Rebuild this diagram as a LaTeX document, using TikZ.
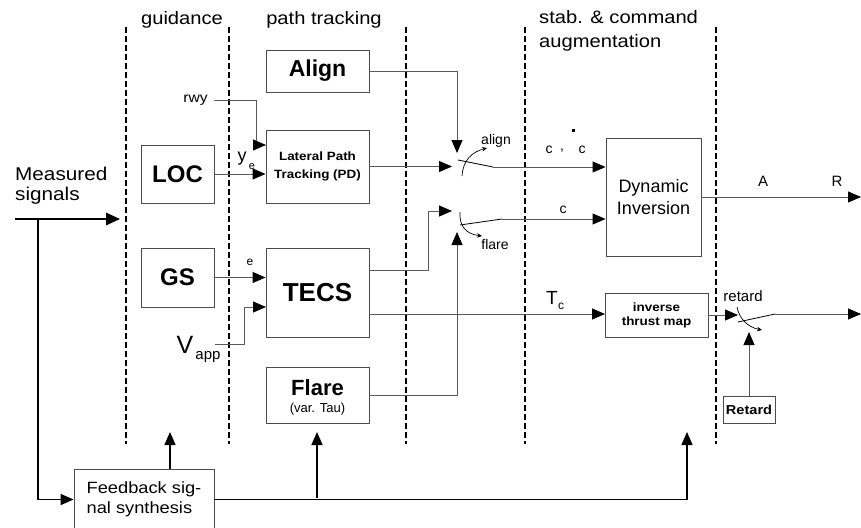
\documentclass[tikz,border=0pt]{standalone}
\usepackage{fontspec}
\setmainfont{Liberation Sans}
\newfontfamily\widesans[FakeStretch=1.12]{Liberation Sans}
\usetikzlibrary{arrows.meta}
\newcommand\fsz[1]{\fontsize{#1}{#1}\selectfont}

\tikzset{
  box/.style={draw=black!70, line width=0.9pt, inner sep=0pt, align=center},
  sig/.style={draw=black!65, line width=0.9pt},
  fbl/.style={draw=black, line width=1.5pt},
  tip/.style={-{Triangle[length=13pt,width=11pt,color=black]}},
  bigtip/.style={-{Triangle[length=14pt,width=12.5pt,color=black]}},
  blade/.style={draw=black, line width=0.8pt},
  swarr/.style={draw=black, line width=0.7pt, -{Stealth[length=5pt,width=4.5pt]}},
  sep/.style={draw=black, line width=1.3pt, dash pattern=on 6pt off 3pt},
  lbl/.style={inner sep=0pt},
}

\begin{document}
\begin{tikzpicture}[x=1pt,y=-1pt]
\clip (0,0) rectangle (861,527);
\fill[white] (0,0) rectangle (861,527);

% column separators
\foreach \x in {126,229,406,525,716} \draw[sep] (\x,27) -- (\x,444);

% column titles
\node[lbl,font=\widesans\fsz{18}] (tguid) at (182,20) {guidance};
\node[lbl,font=\widesans\fsz{18}] (tpath) at (324,20) {path tracking};
\node[lbl,anchor=west,align=left,font=\widesans\fontsize{18}{24}\selectfont] (tstab) at (539,31) {stab. \& command\\augmentation};

\node[lbl,anchor=west,align=left,font=\widesans\fontsize{18.5}{20}\selectfont] (meas) at (15,186) {Measured\\signals};

% blocks
\node[box,minimum width=103pt,minimum height=42pt,font=\bfseries\fsz{23}] (align) at (317.5,71) {Align};
\node[box,minimum width=103pt,minimum height=73pt,font=\bfseries\widesans\fontsize{12}{17.5}\selectfont] (lat) at (317.5,166.5) {Lateral Path\\Tracking (PD)};
\node[box,minimum width=73pt,minimum height=58pt,font=\bfseries\fsz{24}] (loc) at (177.5,174) {LOC};
\node[box,minimum width=73pt,minimum height=59pt,font=\bfseries\fsz{24}] (gs) at (177.5,277.5) {GS};
\node[box,minimum width=103pt,minimum height=89pt,font=\bfseries\fsz{26}] (tecs) at (317.5,292.5) {TECS};
\node[box,minimum width=103pt,minimum height=56pt] (flare) at (317.5,395) {};
\node[lbl,font=\bfseries\fsz{22}] (flaret) at (317.5,388) {Flare};
\node[lbl,font=\fsz{13}] (flares) at (317.5,409.5) {(var. Tau)};
\node[box,minimum width=140pt,minimum height=61pt,align=left,font=\widesans\fontsize{16.3}{20}\selectfont] (fb) at (144,499.5) {Feedback sig-\\nal synthesis};
\node[box,minimum width=95pt,minimum height=118pt,font=\fontsize{18}{22}\selectfont] (di) at (653.5,197) {Dynamic\\Inversion};
\node[box,minimum width=103pt,minimum height=44pt,font=\bfseries\widesans\fontsize{12}{14}\selectfont] (itm) at (656.5,315) {inverse\\thrust map};
\node[box,minimum width=52pt,minimum height=27pt,font=\bfseries\widesans\fsz{13}] (ret) at (749,409.5) {Retard};

% signal labels
\node[lbl,font=\widesans\fsz{14}] (rwy) at (195.5,100) {rwy};
\node[lbl,font=\fsz{18}] (ye) at (242,159) {y};
\node[lbl,font=\fsz{11}] (yes) at (252,167) {e};
\node[lbl,font=\fsz{12}] (el) at (250,262) {e};
\node[lbl,font=\fsz{25}] (vapp) at (185,345) {V};
\node[lbl,font=\fsz{15}] (vapps) at (208,357) {app};
\node[lbl,font=\fsz{14}] (algn) at (496,141) {align};
\node[lbl,font=\fsz{14}] (flr) at (495,244) {flare};
\node[lbl,font=\fsz{14}] (c1) at (549,150) {c};
\node[lbl,font=\fsz{14}] (comma) at (562,151) {,};
\node[lbl,font=\fsz{14}] (c2) at (582,150) {c};
\fill (571.5,128.5) rectangle (574.5,131.5);
\node[lbl,font=\fsz{14}] (c3) at (563,210) {c};
\node[lbl,font=\fsz{15}] (la) at (763,181) {A};
\node[lbl,font=\fsz{15}] (lr) at (837,181) {R};
\node[lbl,font=\fsz{19}] (tc) at (552,298) {T};
\node[lbl,font=\fsz{12}] (tcs) at (561,306) {c};
\node[lbl,font=\fsz{15}] (retl) at (743,296) {retard};

% routing points
\coordinate (rwyin) at (266,145);
\coordinate (vappin) at (266,307);
\coordinate (vappout) at (215,344);
\coordinate (tecsup) at (369,270);
\coordinate (tecslo) at (369,314);
\coordinate (itmin) at (605,314);
\coordinate (sw1a) at (458,160);
\coordinate (sw1b) at (493,167);
\coordinate (sw2a) at (460,225);
\coordinate (sw2b) at (502,219);
\coordinate (sw3a) at (738,322);
\coordinate (sw3b) at (775,314);
\coordinate (sw1top) at (457,153);
\coordinate (sw1in) at (452,166.5);
\coordinate (sw2in) at (452,211);
\coordinate (sw2bot) at (457,232);
\coordinate (sw3in) at (738,315);
\coordinate (retin) at (749,332);
\coordinate (out1) at (861,197);
\coordinate (out2) at (861,314);
\coordinate (msin) at (15,219);
\coordinate (msend) at (120,219);
\coordinate (msfork) at (38,219);
\coordinate (fbup1) at (170,432);
\coordinate (fbup1b) at (170,469);
\coordinate (fbup2) at (317,432);
\coordinate (fbup2b) at (317,498);
\coordinate (fbup3) at (687,432);

% inputs into guidance / path tracking
\draw[sig,tip] ([xshift=6pt]rwy.east) -- ++(43,0) |- (rwyin);
\draw[sig,tip] (loc.east) -- (loc.east -| lat.west);
\draw[sig,tip] (gs.east) -- (gs.east -| tecs.west);
\draw[sig,tip] (vappout) -- ++(29,0) |- (vappin);

% path tracking outputs into the switches
\draw[sig,tip] (align.east) -| (sw1top);
\draw[sig,tip] (lat.east) -- (sw1in);
\draw[sig,tip] (tecsup) -- ++(59,0) |- (sw2in);
\draw[sig,tip] (flare.east) -| (sw2bot);

% switches
\draw[blade] (sw1a) -- (sw1b);
\draw[blade] (sw2a) -- (sw2b);
\draw[blade] (sw3a) -- (sw3b);
\draw[swarr] (462,176) .. controls (463,160) and (472,152) .. (487,148);
\draw[swarr] (460,212) .. controls (459,226) and (466,234) .. (482,236);
\draw[swarr] (737,307) .. controls (739,318) and (747,327) .. (762,330);

% into the inner loop
\draw[sig,tip] (sw1b) -- (sw1b -| di.west);
\draw[sig,tip] (sw2b) -- (sw2b -| di.west);
\draw[sig,tip] (tecslo) -- (itmin);
\draw[sig,tip] (di.east) -- (out1);
\draw[sig,tip] (itm.east) -- (sw3in);
\draw[sig,tip] (sw3b) -- (out2);
\draw[sig,tip] (ret.north) -- (retin);

% measured signals and feedback paths
\draw[fbl,bigtip] (msin) -- (msend);
\draw[fbl,tip] (msfork) |- (fb.west);
\draw[fbl,tip] (fbup1b) -- (fbup1);
\draw[fbl,tip] (fb.east) -| (fbup3);
\draw[fbl,tip] (fbup2b) -- (fbup2);
\end{tikzpicture}
\end{document}
